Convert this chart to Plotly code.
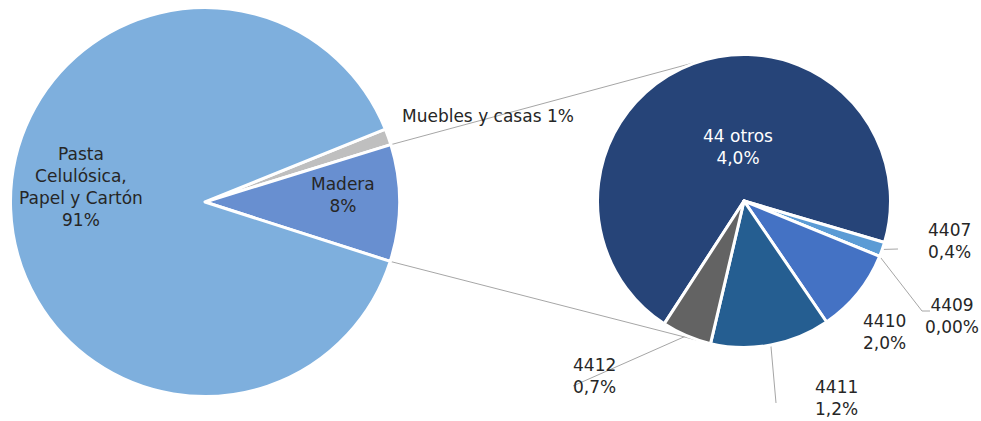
"""Pie of pie: share of forestry exports, with the Madera slice broken out."""

import math

import plotly.graph_objects as go

W, H = 981, 421
FONT = "DejaVu Sans"
TEXT = "#262626"
LINE = "#a6a6a6"

# main pie (share of the circle as drawn)
main_labels = ["Muebles y casas", "Madera", "Pasta Celulósica, Papel y Cartón"]
main_share = [1.35, 9.7, 88.95]
main_text = ["Muebles y casas 1%", "Madera<br>8%", "Pasta<br>Celulósica,<br>Papel y Cartón<br>91%"]
main_colors = ["#bfbfbf", "#688fd0", "#7eafdd"]

# secondary pie (breakdown of Madera, share of the circle as drawn)
sub_labels = ["44 otros", "4407", "4409", "4410", "4411", "4412"]
sub_share = [70.4, 1.6, 0.0, 9.3, 13.2, 5.5]
sub_pct = ["4,0%", "0,4%", "0,00%", "2,0%", "1,2%", "0,7%"]
sub_colors = ["#264478", "#5b9bd5", "#9e480e", "#4472c4", "#255e91", "#636363"]

# geometry in pixels (y down); start angle is mathematical degrees
MAIN = dict(cx=205, cy=202, r=194.5, start=22.0)
SUB = dict(cx=744, cy=201, r=146.5, start=-123.0)

# label centres, offsets from the pie centre in px
MAIN_LABEL_OFF = [(283, -86), (138, -7), (-124, -15)]
SUB_LABEL_OFF = [(-6, -54), (205, 40), (208, 115), (140, 131), (92, 197), (-150, 175)]
# leader-line waypoints after the slice edge (offsets from sub centre)
SUB_LEADERS = {1: [(154, 48)], 2: [(178, 110), (186, 110)], 4: [(32, 202)], 5: [(-171, 185)]}


def paper(x, y):
    return x / W, 1 - y / H


def polar(g, deg, k=1.0):
    a = math.radians(deg)
    return g["cx"] + g["r"] * k * math.cos(a), g["cy"] - g["r"] * k * math.sin(a)


def edges(shares, g):
    # clockwise from the start angle
    total = sum(shares)
    out = [g["start"]]
    for s in shares:
        out.append(out[-1] - 360 * s / total)
    return out


def domain(g):
    x0, y0 = paper(g["cx"] - g["r"], g["cy"] + g["r"])
    x1, y1 = paper(g["cx"] + g["r"], g["cy"] - g["r"])
    return dict(x=[max(x0, 0), min(x1, 1)], y=[max(y0, 0), min(y1, 1)])


def tangent(px, py, g, upper):
    dx, dy = px - g["cx"], py - g["cy"]
    d = math.hypot(dx, dy)
    base = math.atan2(dy, dx)
    off = math.acos(g["r"] / d)
    pts = [(g["cx"] + g["r"] * math.cos(a), g["cy"] + g["r"] * math.sin(a)) for a in (base + off, base - off)]
    return min(pts, key=lambda p: p[1]) if upper else max(pts, key=lambda p: p[1])


def path(points):
    pp = [paper(x, y) for x, y in points]
    return "M " + " L ".join(f"{x:.5f},{y:.5f}" for x, y in pp)


fig = go.Figure()
for labels, values, colors, g in (
    (main_labels, main_share, main_colors, MAIN),
    (sub_labels, sub_share, sub_colors, SUB),
):
    fig.add_trace(
        go.Pie(
            labels=labels,
            values=values,
            sort=False,
            direction="clockwise",
            rotation=90 - g["start"],
            marker=dict(colors=colors, line=dict(color="white", width=3)),
            textinfo="none",
            hoverinfo="label",
            domain=domain(g),
            showlegend=False,
        )
    )

shapes = []
# connector lines from the Madera slice to the secondary pie
me = edges(main_share, MAIN)
top = polar(MAIN, me[1])
bot = polar(MAIN, me[2])
for p, upper in ((top, True), (bot, False)):
    shapes.append(dict(type="path", path=path([p, tangent(*p, SUB, upper)]),
                       xref="paper", yref="paper", line=dict(color=LINE, width=1), layer="below"))

# leader lines for the small slices
se = edges(sub_share, SUB)
for i, pts in SUB_LEADERS.items():
    start = polar(SUB, (se[i] + se[i + 1]) / 2)
    way = [(SUB["cx"] + dx, SUB["cy"] + dy) for dx, dy in pts]
    shapes.append(dict(type="path", path=path([start] + way),
                       xref="paper", yref="paper", line=dict(color=LINE, width=1), layer="below"))

annotations = []
for txt, (dx, dy) in zip(main_text, MAIN_LABEL_OFF):
    x, y = paper(MAIN["cx"] + dx, MAIN["cy"] + dy)
    annotations.append(dict(x=x, y=y, text=txt, showarrow=False, xanchor="center", yanchor="middle",
                            font=dict(color=TEXT, size=17, family=FONT)))
for i, (lab, pct) in enumerate(zip(sub_labels, sub_pct)):
    dx, dy = SUB_LABEL_OFF[i]
    x, y = paper(SUB["cx"] + dx, SUB["cy"] + dy)
    annotations.append(dict(x=x, y=y, text=f"{lab}<br>{pct}", showarrow=False, xanchor="center",
                            yanchor="middle",
                            font=dict(color="white" if i == 0 else TEXT, size=17, family=FONT)))

fig.update_layout(
    width=W,
    height=H,
    margin=dict(l=0, r=0, t=0, b=0),
    paper_bgcolor="white",
    plot_bgcolor="white",
    shapes=shapes,
    annotations=annotations,
)

# drop the default page margin so the 981x421 figure fills the window exactly
fig.write_html(
    "out.html",
    config={"displayModeBar": False},
    post_script="document.body.style.margin = '0';",
)
